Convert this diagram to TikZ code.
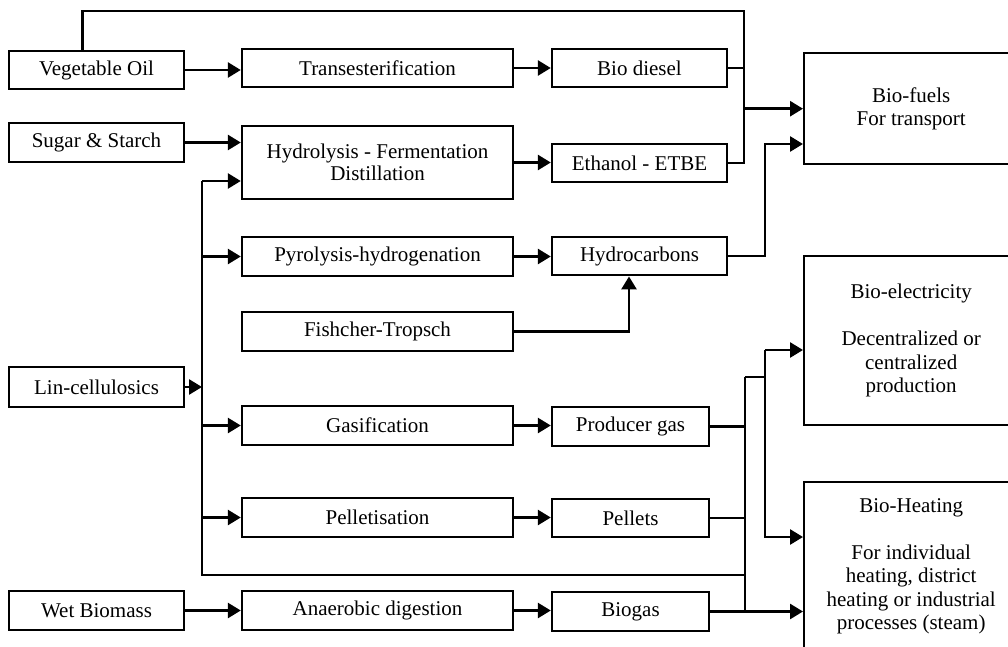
\documentclass[tikz,border=0pt]{standalone}
\usepackage{fontspec}
\setmainfont{Liberation Serif}
\usetikzlibrary{arrows.meta}
\begin{document}
\begin{tikzpicture}[x=1pt,y=-1pt,
  blk/.style={draw, line width=2.4pt, inner sep=0pt, minimum height=38.5pt, align=center,
    font=\fontsize{21}{23.5}\selectfont},
  srcbox/.style={blk, minimum width=175pt},
  procbox/.style={blk, minimum width=271pt},
  prodbox/.style={blk, minimum width=175pt},
  prodboxs/.style={blk, minimum width=157pt},
  outbox/.style={blk, minimum width=214pt, anchor=north west},
  ln/.style={line width=2.7pt},
  arr/.style={line width=2.7pt, -{Triangle[length=13pt,width=15pt]}},
  txt/.style={inner sep=0pt, align=center, font=\fontsize{21}{23.5}\selectfont}]
\useasboundingbox (0,0) rectangle (1008,647);

% sources
\node[srcbox] (veg) at (96.5,70) {Vegetable Oil};
\node[srcbox] (sugar) at (96.5,142.5) {Sugar \& Starch};
\node[srcbox, minimum height=40pt] (lin) at (96.5,387) {Lin-cellulosics};
\node[srcbox] (wet) at (96.5,610.5) {Wet Biomass};

% processes
\node[procbox] (trans) at (377.5,68) {Transesterification};
\node[procbox, minimum height=73pt, font=\fontsize{21}{22}\selectfont] (hydro) at (377.5,162.5) {Hydrolysis - Fermentation\\Distillation};
\node[procbox] (pyro) at (377.5,256.5) {Pyrolysis-hydrogenation};
\node[procbox] (fisch) at (377.5,331.5) {Fishcher-Tropsch};
\node[procbox] (gasif) at (377.5,425.5) {Gasification};
\node[procbox] (pellet) at (377.5,517.5) {Pelletisation};
\node[procbox] (anaer) at (377.5,610.5) {Anaerobic digestion};

% products
\node[prodbox] (biodiesel) at (639.5,68) {Bio diesel};
\node[prodbox] (ethanol) at (639.5,163) {Ethanol - ETBE};
\node[prodbox] (hydrocarb) at (639.5,256) {Hydrocarbons};
\node[prodboxs] (producer) at (630.5,426.5) {Producer gas};
\node[prodboxs] (pellets) at (630.5,518) {Pellets};
\node[prodboxs] (biogas) at (630.5,611.5) {Biogas};

% outputs
\node[outbox, minimum height=111pt] (fuels) at (803,52) {Bio-fuels\\For transport};
\node[outbox, minimum height=169pt] (elec) at (803,255) {Bio-electricity\\[23.5pt]Decentralized or\\centralized\\production};
\node[outbox, minimum height=220pt] (heat) at (803,481) {};
\node[txt, anchor=north] (heattxt) at ([yshift=-17pt]heat.north) {Bio-Heating\\[23.5pt]For individual\\heating, district\\heating or industrial\\processes (steam)};

% junction coordinates
\coordinate (ftop) at (744,11);
\coordinate (hc) at (765,144);
\coordinate (lv) at (202,181);
\coordinate (lb) at (202,575);
\coordinate (ctop) at (745,377);
\coordinate (ev) at (765,350);
\coordinate (hv) at (765,537);

% bio-fuels lines
\draw[ln] ([xshift=75pt]veg.north west) |- (ftop) -- (ftop |- ethanol.east) -- (ethanol.east);
\draw[ln] (biodiesel.east) -- (biodiesel.east -| ftop);
\draw[arr] (ftop |- fuels.west) -- (fuels.west);
\draw[arr] (hydrocarb.east) -| (hc) -- (hc -| fuels.west);

% source to process
\draw[arr] (veg.east) -- (veg.east -| trans.west);
\draw[arr] (sugar.east) -- (sugar.east -| hydro.west);
\draw[arr] (wet.east) -- (wet.east -| anaer.west);
\draw[arr] (lin.east) -- (lin.east -| lv);
\draw[ln] (lv) -- (lb) -- (lb -| ctop);
\draw[arr] (lv) -- (lv -| hydro.west);
\draw[arr] (pyro.west -| lv) -- (pyro.west);
\draw[arr] (gasif.west -| lv) -- (gasif.west);
\draw[arr] (pellet.west -| lv) -- (pellet.west);

% process to product
\draw[arr] (trans.east) -- (trans.east -| biodiesel.west);
\draw[arr] (hydro.east) -- (hydro.east -| ethanol.west);
\draw[arr] (pyro.east) -- (pyro.east -| hydrocarb.west);
\draw[arr] (gasif.east) -- (gasif.east -| producer.west);
\draw[arr] (pellet.east) -- (pellet.east -| pellets.west);
\draw[arr] (anaer.east) -- (anaer.east -| biogas.west);
\draw[arr] (fisch.east) -| ([xshift=-10.5pt]hydrocarb.south);

% collector to electricity / heating
\draw[ln] (producer.east) -- (producer.east -| ctop);
\draw[ln] (pellets.east) -- (pellets.east -| ctop);
\draw[ln] (ctop) -- (ctop |- biogas.east);
\draw[ln] (ctop) -- (ctop -| ev);
\draw[arr] (biogas.east) -- (biogas.east -| heat.west);
\draw[arr] (ev) -- (ev -| elec.west);
\draw[arr] (ev) -- (hv) -- (hv -| heat.west);
\end{tikzpicture}
\end{document}
